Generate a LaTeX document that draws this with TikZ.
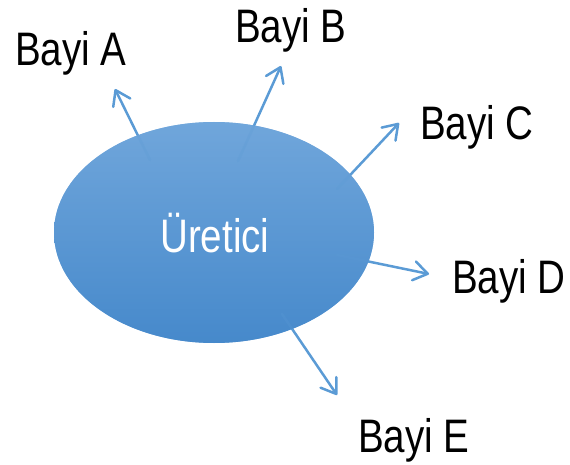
\documentclass[tikz,border=0pt]{standalone}
\usepackage{fontspec}
\setmainfont{Liberation Sans}[FakeStretch=0.82]
\usetikzlibrary{arrows.meta}
\definecolor{linkblue}{RGB}{91,155,213}
\definecolor{topblue}{RGB}{112,166,219}
\definecolor{botblue}{RGB}{70,137,203}
\tikzset{
  lbl/.style={anchor=base west, inner sep=0pt, font=\fontsize{47}{50}\selectfont},
  link/.style={draw=linkblue, line width=2.5pt, line cap=round,
    -{Straight Barb[length=14pt,width=19pt,round]}},
}
\begin{document}
\begin{tikzpicture}[x=1pt,y=-1pt]
\useasboundingbox (0,0) rectangle (570,465);
% producer ellipse
\path[top color=topblue, bottom color=botblue] (214,232.5) ellipse [x radius=160, y radius=110.5];
% dealer labels
\node[lbl] (a) at (15,66) {Bayi A};
\node[lbl] (b) at (235,43) {Bayi B};
\node[lbl] (c) at (420,140) {Bayi C};
\node[lbl] (d) at (452,293) {Bayi D};
\node[lbl] (e) at (358,452) {Bayi E};
% arrow start and end points
\coordinate (sa) at (150,160); \coordinate (ta) at (115,89);
\coordinate (sb) at (238,161); \coordinate (tb) at (281,66);
\coordinate (sc) at (337,189); \coordinate (tc) at (399,123);
\coordinate (sd) at (337,255); \coordinate (td) at (429,274);
\coordinate (se) at (282,314); \coordinate (te) at (337,395);
\foreach \s/\t in {sa/ta,sb/tb,sc/tc,sd/td,se/te}
  \draw[link] (\s) -- (\t);
% veil over the arrow roots inside the ellipse
\path[top color=topblue, bottom color=botblue, opacity=0.75] (214,232.5) ellipse [x radius=160, y radius=110.5];
\node[lbl, text=white] (u) at (160,252) {Üretici};
\end{tikzpicture}
\end{document}
